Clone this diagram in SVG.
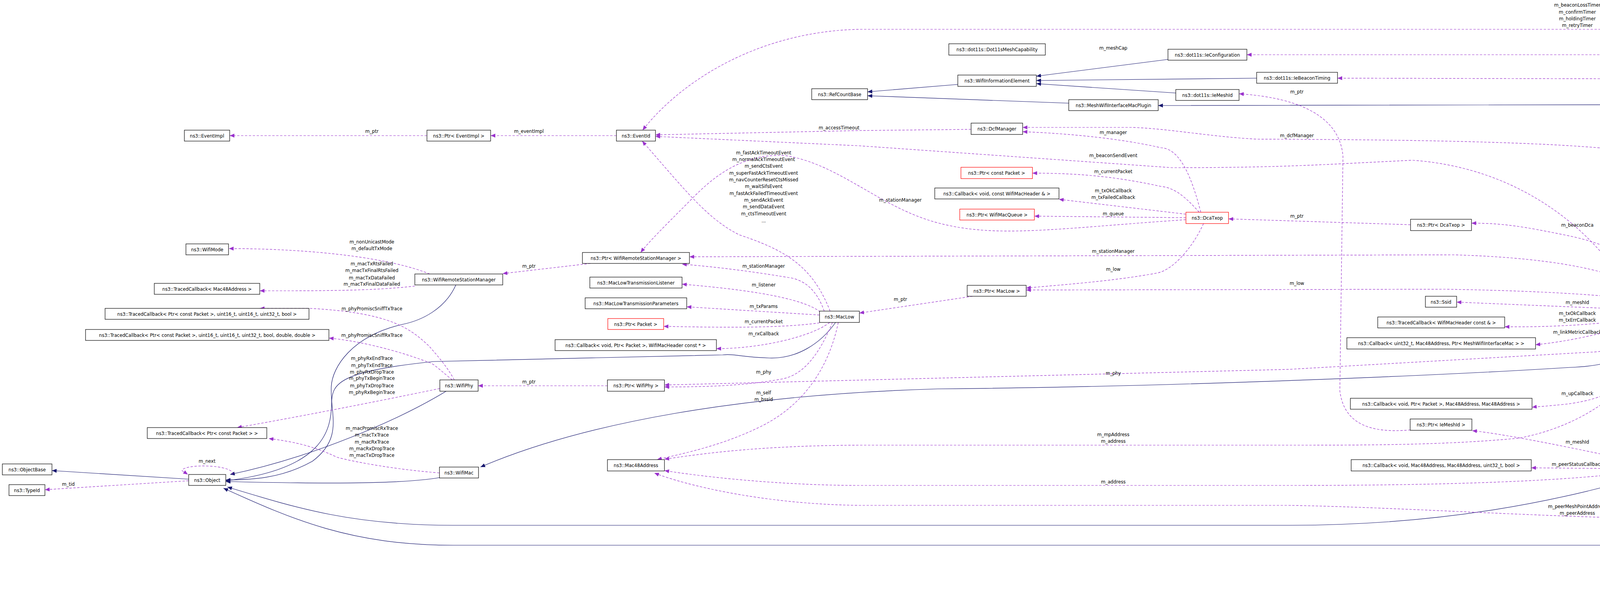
<svg xmlns="http://www.w3.org/2000/svg" width="6331" height="1507" viewBox="0 0 6331 1507">
<style>
text{font-family:"DejaVu Sans Condensed","Liberation Sans Narrow","Liberation Sans",sans-serif;font-size:13px;fill:#000;text-anchor:middle}
.n rect{fill:#fff;stroke:#000;stroke-width:1.2}
.n.red rect{stroke:#ff0000}
.n.cur rect{fill:#bfbfbf}
.inh{fill:none;stroke:#191970;stroke-width:1.2;marker-end:url(#an)}
.mem{fill:none;stroke:#9a32cd;stroke-width:1.2;stroke-dasharray:6,4;marker-end:url(#ap)}
</style>
<defs>
<marker id="an" markerUnits="userSpaceOnUse" markerWidth="12" markerHeight="10" refX="12" refY="5" orient="auto"><path d="M0,0 L12,5 L0,10 z" fill="#191970"/></marker>
<marker id="ap" markerUnits="userSpaceOnUse" markerWidth="12" markerHeight="10" refX="12" refY="5" orient="auto"><path d="M0,0 L12,5 L0,10 z" fill="#9a32cd"/></marker>
</defs>
<rect width="6331" height="1507" fill="#fff"/>
<g id="connectors">
<path class="inh" d="M483,1226 L133,1204"/>
<path class="inh" d="M1167,729 C1140,790 1080,820 1030,830 C900,860 850,940 848,990 C845,1060 880,1120 800,1180 C720,1225 640,1228 578,1228"/>
<path class="inh" d="M2139,825 C2100,880 2040,918 1970,916 C1900,914 1880,905 1850,908 L1110,925 C870,950 850,980 849,1030 C848,1100 830,1200 578,1230"/>
<path class="inh" d="M1142,1001 C1020,1075 800,1170 589,1214"/>
<path class="inh" d="M1125,1222 C1050,1235 900,1240 578,1232"/>
<path class="inh" d="M4268,810 C4200,900 4150,935 4020,940 C3700,960 3000,990 2400,995 C1900,1010 1500,1080 1230,1195"/>
<path class="inh" d="M4226,1213 C4000,1280 3700,1344 3300,1344 L1160,1344 C900,1344 760,1300 582,1246"/>
<path class="inh" d="M6243,810 C6200,1100 6100,1300 5816,1400 C5760,1405 5700,1395 5637,1395 L1160,1395 C900,1395 750,1330 572,1249"/>
<path class="inh" d="M2990,152 L2653,195"/>
<path class="inh" d="M3217,200 L2653,206"/>
<path class="inh" d="M3010,238 L2653,214"/>
<path class="inh" d="M2452,216 L2221,235"/>
<path class="inh" d="M2736,264 L2221,245"/>
<path class="inh" d="M5041,782 C5000,480 4820,267 4642,267 L2965,270"/>

<path class="mem" d="M1093,347 L588,347"/>
<path class="mem" d="M1578,347 L1256,347"/>
<path class="mem" d="M6237,782 C6220,500 6150,200 6000,110 C5900,80 5850,75 5750,75 L2200,75 C1950,80 1750,200 1645,333"/>
<path class="mem" d="M2125,796 C2080,680 2010,640 1893,601 C1810,560 1753,485 1644,361"/>
<path class="mem" d="M2486,331 L2200,334 L1678,345"/>
<path class="mem" d="M4191,782 C4100,600 3900,430 3616,410 C3400,420 3300,429 3000,429 L2200,373 L1678,349"/>
<path class="mem" d="M3074,543 C3050,450 3020,380 2972,378 C2850,350 2700,340 2618,337"/>
<path class="mem" d="M4275,782 C4250,600 4200,390 4114,380 C3900,360 3500,357 3218,356 C3100,350 3000,330 2900,326 L2618,326"/>
<path class="mem" d="M3070,543 C3040,510 3010,480 2972,477 C2850,450 2750,443 2643,443"/>
<path class="mem" d="M3036,548 L2711,510"/>
<path class="mem" d="M3036,557 L2648,553"/>
<path class="mem" d="M3036,562 C2700,585 2550,610 2400,570 C2250,530 2150,420 2010,398 C1880,390 1800,480 1760,520 C1700,580 1660,620 1640,646"/>
<path class="mem" d="M4254,782 C4200,700 4000,660 3721,652 L1765,657"/>
<path class="mem" d="M2110,796 C2090,740 2060,720 2030,712 C1900,690 1800,680 1746,676"/>
<path class="mem" d="M1512,674 L1287,700"/>
<path class="mem" d="M2100,798 C2050,760 1900,740 1746,727"/>
<path class="mem" d="M2098,806 L1758,785"/>
<path class="mem" d="M2098,826 C2000,840 1850,838 1699,835"/>
<path class="mem" d="M2124,825 C2080,860 1950,892 1834,892"/>
<path class="mem" d="M2131,825 C2100,900 2060,960 2000,970 C1900,988 1800,990 1701,990"/>
<path class="mem" d="M2146,825 C2120,950 2050,1040 1950,1090 C1850,1140 1750,1160 1682,1176"/>
<path class="mem" d="M4261,810 C4200,880 4120,900 4072,901 L3300,945 L1701,985"/>
<path class="mem" d="M1555,987 L1224,987"/>
<path class="mem" d="M1163,972 C1140,930 1110,900 1100,887 C1050,840 1000,800 793,789 L665,789"/>
<path class="mem" d="M1158,972 C1130,950 1110,930 1100,928 C1000,890 900,870 842,865"/>
<path class="mem" d="M1126,994 C1000,1020 800,1060 607,1094"/>
<path class="mem" d="M1125,1210 C1000,1200 900,1180 863,1170 C800,1140 750,1130 688,1122"/>
<path class="mem" d="M1100,701 C1000,660 800,636 586,636"/>
<path class="mem" d="M1062,732 C950,745 800,744 665,744"/>
<path class="mem" d="M483,1230 L115,1253"/>
<path class="mem" d="M596,1214 C600,1188 470,1186 466,1204 L481,1214"/>
<path class="mem" d="M4268,782 C4200,760 4000,745 3700,740 L2627,742"/>
<path class="mem" d="M3081,572 C3050,640 3000,690 2965,698 C2850,720 2700,730 2627,737"/>
<path class="mem" d="M2490,758 L2200,801"/>
<path class="mem" d="M4268,782 C4200,650 4100,620 4000,600 C3900,580 3850,571 3767,571"/>
<path class="mem" d="M3611,575 L3145,560"/>
<path class="mem" d="M4521,796 L4378,796"/>
<path class="mem" d="M4896,796 L4759,796"/>
<path class="mem" d="M5020,810 L4660,1064"/>
<path class="mem" d="M4598,1093 C4500,1130 4400,1160 4332,1185"/>
<path class="mem" d="M5484,796 L5194,796"/>
<path class="mem" d="M6165,796 L5778,796"/>
<path class="mem" d="M6240,782 C6200,400 6020,140 5820,130 C5720,128 5700,140 5650,140 L3192,140"/>
<path class="mem" d="M6228,782 C6100,450 5900,205 5650,205 L3424,200"/>
<path class="mem" d="M6234,810 C6100,1100 5900,1331 5637,1331 L4400,1330 C4000,1327 3600,1298 3300,1293 L2200,1293 C1950,1290 1750,1240 1675,1210"/>
<path class="mem" d="M4275,810 C4220,950 4100,1080 3889,1121 C3700,1139 3500,1139 3300,1139 L2200,1139 C1950,1140 1800,1160 1701,1175"/>
<path class="mem" d="M4149,1212 C3900,1240 3500,1242 3300,1242 L2200,1242 C2000,1242 1800,1220 1701,1204"/>
<path class="mem" d="M4187,792 L3729,773"/>
<path class="mem" d="M4222,810 C4150,825 4000,838 3852,836"/>
<path class="mem" d="M4250,810 C4150,840 4050,870 3931,882"/>
<path class="mem" d="M4278,810 C4230,950 4150,1020 4000,1035 C3950,1040 3930,1041 3922,1042"/>
<path class="mem" d="M4205,1185 C4050,1150 3850,1110 3769,1102"/>
<path class="mem" d="M3611,1100 C3500,1110 3440,1080 3430,1000 L3438,400 C3430,300 3330,250 3172,240"/>
<path class="mem" d="M4147,1199 L3920,1197"/>
<path class="mem" d="M6248,810 C6230,1100 6170,1400 6110,1440 C6000,1520 5850,1510 5673,1461"/>
</g>
<g id="labels">
<text x="952" y="340">m_ptr</text>
<text x="1354" y="340">m_eventImpl</text>
<text x="4038" y="17">m_beaconLossTimer</text>
<text x="4038" y="35">m_confirmTimer</text>
<text x="4038" y="52">m_holdingTimer</text>
<text x="4038" y="69">m_retryTimer</text>
<text x="1955" y="395">m_fastAckTimeoutEvent</text>
<text x="1955" y="412">m_normalAckTimeoutEvent</text>
<text x="1955" y="429">m_sendCtsEvent</text>
<text x="1955" y="447">m_superFastAckTimeoutEvent</text>
<text x="1955" y="464">m_navCounterResetCtsMissed</text>
<text x="1955" y="481">m_waitSifsEvent</text>
<text x="1955" y="499">m_fastAckFailedTimeoutEvent</text>
<text x="1955" y="516">m_sendAckEvent</text>
<text x="1955" y="533">m_sendDataEvent</text>
<text x="1955" y="551">m_ctsTimeoutEvent</text>
<text x="1955" y="569">...</text>
<text x="2148" y="331">m_accessTimeout</text>
<text x="2850" y="402">m_beaconSendEvent</text>
<text x="2850" y="343">m_manager</text>
<text x="3320" y="351">m_dcfManager</text>
<text x="2850" y="127">m_meshCap</text>
<text x="2850" y="443">m_currentPacket</text>
<text x="2850" y="492">m_txOkCallback</text>
<text x="2850" y="509">m_txFailedCallback</text>
<text x="2850" y="551">m_queue</text>
<text x="2305" y="516">m_stationManager</text>
<text x="2850" y="647">m_stationManager</text>
<text x="1955" y="685">m_stationManager</text>
<text x="1354" y="685">m_ptr</text>
<text x="1955" y="733">m_listener</text>
<text x="1955" y="788">m_txParams</text>
<text x="1955" y="827">m_currentPacket</text>
<text x="1955" y="858">m_rxCallback</text>
<text x="1955" y="956">m_phy</text>
<text x="1955" y="1009">m_self</text>
<text x="1955" y="1026">m_bssid</text>
<text x="2850" y="959">m_phy</text>
<text x="1354" y="981">m_ptr</text>
<text x="952" y="794">m_phyPromiscSniffTxTrace</text>
<text x="952" y="862">m_phyPromiscSniffRxTrace</text>
<text x="952" y="921">m_phyRxEndTrace</text>
<text x="952" y="939">m_phyTxEndTrace</text>
<text x="952" y="956">m_phyRxDropTrace</text>
<text x="952" y="972">m_phyTxBeginTrace</text>
<text x="952" y="991">m_phyTxDropTrace</text>
<text x="952" y="1008">m_phyRxBeginTrace</text>
<text x="952" y="1100">m_macPromiscRxTrace</text>
<text x="952" y="1117">m_macTxTrace</text>
<text x="952" y="1135">m_macRxTrace</text>
<text x="952" y="1152">m_macRxDropTrace</text>
<text x="952" y="1169">m_macTxDropTrace</text>
<text x="952" y="623">m_nonUnicastMode</text>
<text x="952" y="640">m_defaultTxMode</text>
<text x="952" y="679">m_macTxRtsFailed</text>
<text x="952" y="696">m_macTxFinalRtsFailed</text>
<text x="952" y="715">m_macTxDataFailed</text>
<text x="952" y="731">m_macTxFinalDataFailed</text>
<text x="175" y="1243">m_tid</text>
<text x="530" y="1184">m_next</text>
<text x="3320" y="729">m_low</text>
<text x="2850" y="693">m_low</text>
<text x="2305" y="770">m_ptr</text>
<text x="4038" y="580">m_beaconDca</text>
<text x="3320" y="557">m_ptr</text>
<text x="4462" y="790">m_ptr</text>
<text x="4834" y="790">m_parent</text>
<text x="4834" y="916">m_protocol</text>
<text x="4462" y="1130">m_ptr</text>
<text x="5238" y="790">m_ptr</text>
<text x="6072" y="790">m_macPlugin</text>
<text x="4639" y="135">m_configuration</text>
<text x="4639" y="200">m_beaconTiming</text>
<text x="4038" y="1300">m_peerMeshPointAddress</text>
<text x="4038" y="1317">m_peerAddress</text>
<text x="2850" y="1116">m_mpAddress</text>
<text x="2850" y="1133">m_address</text>
<text x="2850" y="1237">m_address</text>
<text x="4038" y="778">m_meshId</text>
<text x="4038" y="806">m_txOkCallback</text>
<text x="4038" y="823">m_txErrCallback</text>
<text x="4038" y="854">m_linkMetricCallback</text>
<text x="4038" y="1011">m_upCallback</text>
<text x="4038" y="1135">m_meshId</text>
<text x="3320" y="239">m_ptr</text>
<text x="4038" y="1192">m_peerStatusCallback</text>
<text x="6071" y="1424">m_linkStatusCallback</text>
</g>
<g id="n1" class="n"><rect x="472" y="333" width="116" height="28"/><text x="530" y="351.5">ns3::EventImpl</text></g>
<g id="n2" class="n"><rect x="1093" y="333" width="163" height="28"/><text x="1174.5" y="351.5">ns3::Ptr&lt; EventImpl &gt;</text></g>
<g id="n3" class="n"><rect x="1578" y="333" width="100" height="28"/><text x="1628" y="351.5">ns3::EventId</text></g>
<g id="n4" class="n"><rect x="476" y="624" width="109" height="28"/><text x="530.5" y="642.5">ns3::WifiMode</text></g>
<g id="n5" class="n"><rect x="395" y="725" width="270" height="28"/><text x="530" y="743.5">ns3::TracedCallback&lt; Mac48Address &gt;</text></g>
<g id="n6" class="n"><rect x="269" y="789" width="522" height="28"/><text x="530" y="807.5">ns3::TracedCallback&lt; Ptr&lt; const Packet &gt;, uint16_t, uint16_t, uint32_t, bool &gt;</text></g>
<g id="n7" class="n"><rect x="219" y="843" width="623" height="28"/><text x="530.5" y="861.5">ns3::TracedCallback&lt; Ptr&lt; const Packet &gt;, uint16_t, uint16_t, uint32_t, bool, double, double &gt;</text></g>
<g id="n8" class="n"><rect x="377" y="1094" width="306" height="28"/><text x="530" y="1112.5">ns3::TracedCallback&lt; Ptr&lt; const Packet &gt; &gt;</text></g>
<g id="n9" class="n"><rect x="6" y="1187" width="127" height="28"/><text x="69.5" y="1205.5">ns3::ObjectBase</text></g>
<g id="n10" class="n"><rect x="483" y="1214" width="95" height="28"/><text x="530.5" y="1232.5">ns3::Object</text></g>
<g id="n11" class="n"><rect x="23" y="1240" width="92" height="28"/><text x="69" y="1258.5">ns3::TypeId</text></g>
<g id="n12" class="n"><rect x="2078" y="227" width="143" height="28"/><text x="2149.5" y="245.5">ns3::RefCountBase</text></g>
<g id="n13" class="n"><rect x="1491" y="646" width="274" height="28"/><text x="1628" y="664.5">ns3::Ptr&lt; WifiRemoteStationManager &gt;</text></g>
<g id="n14" class="n"><rect x="1062" y="701" width="225" height="28"/><text x="1174.5" y="719.5">ns3::WifiRemoteStationManager</text></g>
<g id="n15" class="n"><rect x="1510" y="709" width="236" height="28"/><text x="1628" y="727.5">ns3::MacLowTransmissionListener</text></g>
<g id="n16" class="n"><rect x="1498" y="762" width="260" height="28"/><text x="1628" y="780.5">ns3::MacLowTransmissionParameters</text></g>
<g id="n17" class="n red"><rect x="1556" y="815" width="143" height="28"/><text x="1627.5" y="833.5">ns3::Ptr&lt; Packet &gt;</text></g>
<g id="n18" class="n"><rect x="1421" y="869" width="413" height="28"/><text x="1627.5" y="887.5">ns3::Callback&lt; void, Ptr&lt; Packet &gt;, WifiMacHeader const * &gt;</text></g>
<g id="n19" class="n"><rect x="1126" y="972" width="98" height="29"/><text x="1175" y="991">ns3::WifiPhy</text></g>
<g id="n20" class="n"><rect x="1555" y="972" width="146" height="29"/><text x="1628" y="991">ns3::Ptr&lt; WifiPhy &gt;</text></g>
<g id="n21" class="n"><rect x="1555" y="1176" width="146" height="29"/><text x="1628" y="1195">ns3::Mac48Address</text></g>
<g id="n22" class="n"><rect x="1125" y="1195" width="100" height="28"/><text x="1175" y="1213.5">ns3::WifiMac</text></g>
<g id="n23" class="n"><rect x="2098" y="796" width="102" height="29"/><text x="2149" y="815">ns3::MacLow</text></g>
<g id="n24" class="n"><rect x="2429" y="112" width="247" height="29"/><text x="2552.5" y="131">ns3::dot11s::Dot11sMeshCapability</text></g>
<g id="n25" class="n"><rect x="2990" y="126" width="202" height="28"/><text x="3091" y="144.5">ns3::dot11s::IeConfiguration</text></g>
<g id="n26" class="n"><rect x="2452" y="192" width="201" height="29"/><text x="2552.5" y="211">ns3::WifiInformationElement</text></g>
<g id="n27" class="n"><rect x="3217" y="185" width="207" height="28"/><text x="3320.5" y="203.5">ns3::dot11s::IeBeaconTiming</text></g>
<g id="n28" class="n"><rect x="3010" y="229" width="162" height="28"/><text x="3091" y="247.5">ns3::dot11s::IeMeshId</text></g>
<g id="n29" class="n"><rect x="2736" y="255" width="229" height="28"/><text x="2850.5" y="273.5">ns3::MeshWifiInterfaceMacPlugin</text></g>
<g id="n30" class="n"><rect x="2486" y="315" width="132" height="29"/><text x="2552" y="334">ns3::DcfManager</text></g>
<g id="n31" class="n red"><rect x="2460" y="428" width="183" height="29"/><text x="2551.5" y="447">ns3::Ptr&lt; const Packet &gt;</text></g>
<g id="n32" class="n"><rect x="2393" y="481" width="318" height="28"/><text x="2552" y="499.5">ns3::Callback&lt; void, const WifiMacHeader &amp; &gt;</text></g>
<g id="n33" class="n red"><rect x="2457" y="535" width="191" height="28"/><text x="2552.5" y="553.5">ns3::Ptr&lt; WifiMacQueue &gt;</text></g>
<g id="n34" class="n red"><rect x="3036" y="543" width="109" height="29"/><text x="3090.5" y="562">ns3::DcaTxop</text></g>
<g id="n35" class="n"><rect x="2476" y="730" width="151" height="28"/><text x="2551.5" y="748.5">ns3::Ptr&lt; MacLow &gt;</text></g>
<g id="n36" class="n"><rect x="3611" y="561" width="156" height="29"/><text x="3689" y="580">ns3::Ptr&lt; DcaTxop &gt;</text></g>
<g id="n37" class="n"><rect x="3649" y="758" width="80" height="28"/><text x="3689" y="776.5">ns3::Ssid</text></g>
<g id="n38" class="n"><rect x="3527" y="811" width="325" height="28"/><text x="3689.5" y="829.5">ns3::TracedCallback&lt; WifiMacHeader const &amp; &gt;</text></g>
<g id="n39" class="n"><rect x="3448" y="864" width="483" height="29"/><text x="3689.5" y="883">ns3::Callback&lt; uint32_t, Mac48Address, Ptr&lt; MeshWifiInterfaceMac &gt; &gt;</text></g>
<g id="n40" class="n"><rect x="4187" y="782" width="191" height="28"/><text x="4282.5" y="800.5">ns3::MeshWifiInterfaceMac</text></g>
<g id="n41" class="n"><rect x="3457" y="1019" width="465" height="28"/><text x="3689.5" y="1037.5">ns3::Callback&lt; void, Ptr&lt; Packet &gt;, Mac48Address, Mac48Address &gt;</text></g>
<g id="n42" class="n"><rect x="3610" y="1072" width="158" height="29"/><text x="3689" y="1091">ns3::Ptr&lt; IeMeshId &gt;</text></g>
<g id="n43" class="n"><rect x="3459" y="1176" width="461" height="29"/><text x="3689.5" y="1195">ns3::Callback&lt; void, Mac48Address, Mac48Address, uint32_t, bool &gt;</text></g>
<g id="n44" class="n"><rect x="4147" y="1185" width="271" height="28"/><text x="4282.5" y="1203.5">ns3::dot11s::PeerManagementProtocol</text></g>
<g id="n45" class="n"><rect x="4521" y="782" width="238" height="28"/><text x="4640" y="800.5">ns3::Ptr&lt; MeshWifiInterfaceMac &gt;</text></g>
<g id="n46" class="n"><rect x="4896" y="782" width="298" height="28"/><text x="5045" y="800.5">ns3::dot11s::PeerManagementProtocolMac</text></g>
<g id="n47" class="n"><rect x="4506" y="1064" width="267" height="29"/><text x="4639.5" y="1083">ns3::Ptr&lt; PeerManagementProtocol &gt;</text></g>
<g id="n48" class="n"><rect x="5484" y="782" width="294" height="28"/><text x="5631" y="800.5">ns3::Ptr&lt; PeerManagementProtocolMac &gt;</text></g>
<g id="n49" class="n cur"><rect x="6165" y="782" width="160" height="28"/><text x="6245" y="800.5">ns3::dot11s::PeerLink</text></g>
<g id="n50" class="n"><rect x="5283" y="1433" width="695" height="28"/><text x="5630.5" y="1451.5">ns3::Callback&lt; void, uint32_t, Mac48Address, Mac48Address, PeerLink::PeerState, PeerLink::PeerState &gt;</text></g>
</svg>
